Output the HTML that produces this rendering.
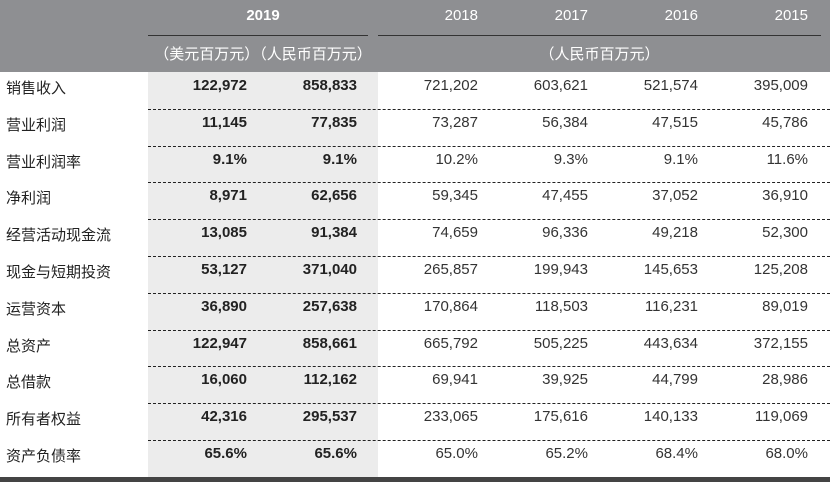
<!DOCTYPE html>
<html><head><meta charset="utf-8">
<style>
body{margin:0;width:830px;height:482px;background:#fff;position:relative;overflow:hidden;font-family:"Liberation Sans","Noto Sans CJK SC",sans-serif;font-size:15px;color:#222}
.a{position:absolute;white-space:nowrap}
</style></head><body>
<div class="a" style="left:0;top:0;width:830px;height:72px;background:#8e8f92"></div>
<div class="a" style="left:148px;top:72px;width:230px;height:405px;background:#ececec"></div>
<div class="a" style="left:148px;top:35px;width:220px;height:1px;background:#333"></div>
<div class="a" style="left:378px;top:35px;width:443px;height:1px;background:#333"></div>
<div class="a" style="left:148px;top:7px;width:230px;text-align:center;color:#fff;font-weight:bold">2019</div>
<div class="a" style="left:148px;top:43px;width:230px;text-align:center;color:#fff">（美元百万元）（人民币百万元）</div>
<div class="a" style="left:378px;top:43px;width:443px;text-align:center;color:#fff">（人民币百万元）</div>
<div class="a" style="left:0;top:477px;width:830px;height:5px;background:#444"></div>
<div id="t"></div>
<script>
const labels=["销售收入","营业利润","营业利润率","净利润","经营活动现金流","现金与短期投资","运营资本","总资产","总借款","所有者权益","资产负债率"];
const years=["2018","2017","2016","2015"];
const usd2019=["122,972","11,145","9.1%","8,971","13,085","53,127","36,890","122,947","16,060","42,316","65.6%"];
const rmb2019=["858,833","77,835","9.1%","62,656","91,384","371,040","257,638","858,661","112,162","295,537","65.6%"];
const y2018=["721,202","73,287","10.2%","59,345","74,659","265,857","170,864","665,792","69,941","233,065","65.0%"];
const y2017=["603,621","56,384","9.3%","47,455","96,336","199,943","118,503","505,225","39,925","175,616","65.2%"];
const y2016=["521,574","47,515","9.1%","37,052","49,218","145,653","116,231","443,634","44,799","140,133","68.4%"];
const y2015=["395,009","45,786","11.6%","36,910","52,300","125,208","89,019","372,155","28,986","119,069","68.0%"];
const t=document.getElementById('t');
const rightEdges=[247,357,478,588,698,808];
const cols=[usd2019,rmb2019,y2018,y2017,y2016,y2015];
const rowH=36.8, top0=72;
function mk(txt,l,tp,style){const d=document.createElement('div');d.className='a';d.textContent=txt;d.style.cssText=`left:${l}px;top:${tp}px;`+style;t.appendChild(d);return d;}
years.forEach((y,i)=>{const d=mk(y,rightEdges[i+2]-100,7,'width:100px;text-align:right;color:#fff');

});
labels.forEach((lb,r)=>{
 const yc=top0+r*rowH;
 const l=mk(lb,6,yc+5,'');
 
 
 cols.forEach((c,ci)=>{
  const d=mk(c[r],rightEdges[ci]-100,yc+5,'width:100px;text-align:right;'+(ci<2?'font-weight:bold;':'color:#333;'));
  
  
 });
 if(r>0){const s=mk('',148,yc,'width:682px;height:0;border-top:1px dashed #222');
  
  }
});
</script>
</body></html>
